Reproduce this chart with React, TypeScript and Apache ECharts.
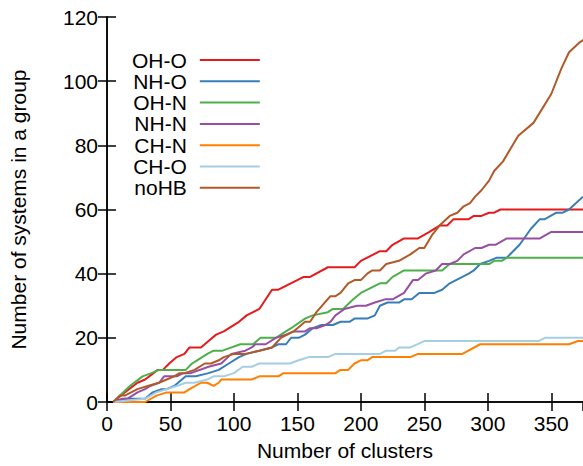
import React, { useEffect, useRef } from "react";
import * as echarts from "echarts";

const seriesNames = ["OH-O", "NH-O", "OH-N", "NH-N", "CH-N", "CH-O", "noHB"];
const seriesColors = ["#e41a1c", "#377eb8", "#4daf4a", "#984ea3", "#ff7f00", "#a6cee3", "#b15928"];

const ohO: number[][] = [[5,0],[14,3],[24,6],[30,7],[40,10],[44,10],[49,12],[55,14],[61,15],[65,17],[74,17],[80,19],[86,21],[92,22],[104,25],[110,27],[120,29],[130,35],[135,35],[155,39],[160,39],[174,42],[195,42],[200,44],[215,47],[220,47],[225,49],[234,51],[245,51],[254,53],[262,55],[268,55],[273,57],[285,57],[289,58],[295,58],[301,59],[305,59],[310,60],[375,60]];
const nhO: number[][] = [[5,0],[14,1],[30,1],[36,3],[43,4],[47,4],[53,5],[59,7],[62,8],[70,8],[80,9],[88,10],[96,12],[104,14],[110,15],[120,16],[130,17],[135,18],[141,18],[145,20],[151,20],[156,21],[162,23],[169,24],[178,24],[184,25],[191,25],[195,26],[205,26],[211,27],[215,30],[221,31],[230,31],[234,32],[240,32],[246,34],[258,34],[264,35],[270,37],[280,39],[285,40],[289,41],[294,43],[301,44],[307,45],[315,45],[325,49],[334,54],[341,57],[345,57],[354,59],[359,59],[364,60],[375,64]];
const ohN: number[][] = [[5,0],[18,5],[28,8],[35,9],[41,10],[62,10],[67,12],[71,13],[79,15],[84,16],[91,16],[105,18],[115,18],[121,20],[133,20],[145,23],[156,26],[162,27],[174,28],[178,29],[186,29],[194,32],[200,34],[215,37],[220,37],[225,39],[234,41],[264,41],[270,43],[301,43],[305,44],[311,44],[315,45],[375,45]];
const nhN: number[][] = [[5,0],[12,1],[16,1],[24,3],[30,4],[34,5],[41,6],[45,8],[55,8],[60,9],[66,9],[80,11],[90,12],[98,15],[109,16],[114,17],[117,18],[125,18],[133,20],[141,21],[147,22],[156,22],[160,23],[165,23],[172,24],[176,25],[180,27],[187,29],[197,30],[204,30],[211,31],[219,32],[225,32],[234,34],[241,38],[245,38],[251,40],[259,41],[264,43],[270,43],[276,44],[281,46],[290,48],[295,48],[301,49],[306,49],[315,51],[341,51],[350,53],[375,53]];
const chN: number[][] = [[5,0],[30,0],[39,2],[47,3],[53,3],[61,3],[65,4],[74,6],[79,6],[84,5],[88,6],[90,7],[114,7],[120,8],[135,8],[139,9],[180,9],[184,10],[190,10],[195,12],[200,13],[205,13],[209,14],[239,14],[245,15],[280,15],[294,18],[364,18],[371,19],[375,19]];
const chO: number[][] = [[5,0],[30,1],[39,3],[47,4],[55,5],[62,6],[69,6],[79,7],[84,8],[92,8],[100,9],[107,11],[114,11],[120,12],[135,12],[144,12],[151,13],[159,14],[174,14],[180,15],[215,15],[220,16],[227,16],[230,17],[239,17],[250,19],[340,19],[345,20],[375,20]];
const noHB: number[][] = [[5,0],[10,2],[14,2],[24,4],[32,5],[41,6],[47,7],[53,8],[57,9],[61,9],[69,10],[77,12],[82,12],[88,13],[92,14],[100,15],[109,15],[120,16],[130,17],[137,20],[147,22],[156,25],[160,25],[165,28],[176,33],[180,33],[184,34],[190,37],[195,38],[200,38],[205,40],[209,41],[215,41],[220,43],[230,44],[239,46],[246,48],[250,48],[256,52],[262,55],[270,58],[276,59],[281,61],[286,62],[290,64],[295,66],[301,69],[305,72],[312,75],[318,79],[324,83],[336,87],[350,96],[358,104],[364,109],[372,112],[376,113]];

const seriesData = [ohO, nhO, ohN, nhN, chN, chO, noHB];

const FONT = "Liberation Sans";
const FS = 21;

export default function App() {
  const ref = useRef<HTMLDivElement>(null);
  useEffect(() => {
    if (!ref.current) return;
    const chart = echarts.init(ref.current, null, { renderer: "svg" });
    const axisCommon = {
      type: "value" as const,
      axisLine: { show: true, lineStyle: { color: "#000", width: 1.5 } },
      axisTick: { show: true, inside: true, length: 9, lineStyle: { color: "#000", width: 1.5 } },
      splitLine: { show: false },
    };
    chart.setOption({
      animation: false,
      textStyle: { fontFamily: FONT },
      grid: { left: 107, top: 17, bottom: 64, right: -4, containLabel: false },
      legend: {
        orient: "vertical",
        align: "right",
        left: 132,
        top: 49.5,
        padding: 0,
        itemGap: 0.3,
        itemWidth: 60,
        itemHeight: 2,
        icon: "rect",
        selectedMode: false,
        textStyle: { fontFamily: FONT, fontSize: FS, color: "#000", lineHeight: 21, padding: [0, 8, 0, 0] },
        data: seriesNames,
      },
      xAxis: [
        {
          ...axisCommon,
          position: "bottom",
          min: 0,
          max: 375,
          interval: 50,
          name: "Number of clusters",
          nameLocation: "middle",
          nameGap: 38,
          nameTextStyle: { fontFamily: FONT, fontSize: FS, color: "#000" },
          axisLabel: { fontFamily: FONT, fontSize: FS, color: "#000", margin: 11, showMaxLabel: false },
        },
        {
          ...axisCommon,
          position: "top",
          min: 0,
          max: 375,
          interval: 50,
          axisLabel: { show: false },
        },
      ],
      yAxis: [
        {
          ...axisCommon,
          position: "left",
          min: 0,
          max: 120,
          interval: 20,
          name: "Number of systems in a group",
          nameLocation: "middle",
          nameGap: 78,
          nameTextStyle: { fontFamily: FONT, fontSize: FS, color: "#000" },
          axisLabel: { fontFamily: FONT, fontSize: FS, color: "#000", margin: 9 },
        },
        {
          ...axisCommon,
          position: "right",
          min: 0,
          max: 120,
          interval: 20,
          axisLabel: { show: false },
        },
      ],
      series: seriesNames.map((name, i) => ({
        name,
        type: "line",
        xAxisIndex: 0,
        yAxisIndex: 0,
        data: seriesData[i],
        showSymbol: false,
        symbol: "none",
        color: seriesColors[i],
        lineStyle: { width: 2, color: seriesColors[i] },
        itemStyle: { color: seriesColors[i] },
      })),
    });
    return () => chart.dispose();
  }, []);
  return (
    <div
      ref={ref}
      style={{ position: "fixed", left: 0, top: 0, width: 583, height: 466, background: "#fff" }}
    />
  );
}
